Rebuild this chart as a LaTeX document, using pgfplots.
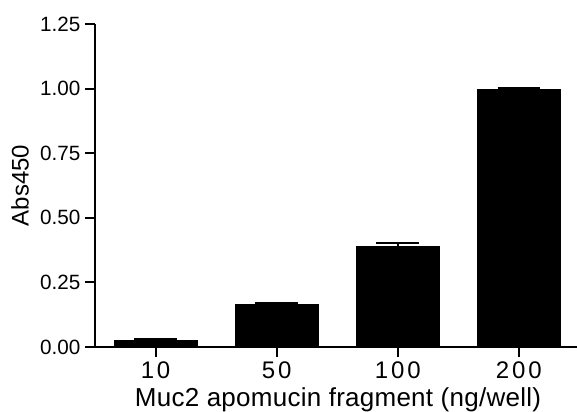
\documentclass[border=0pt]{standalone}
\usepackage{pgfplots}
\pgfplotsset{compat=1.18}
\usepackage{fontspec}
\setmainfont{Liberation Sans}

\begin{document}
\begin{tikzpicture}
\begin{axis}[
    at={(0,0)}, anchor=south west,
    scale only axis,
    width=361.5pt, height=242.25pt,
    xmin=-0.5, xmax=3.48,
    ymin=0, ymax=1.25,
    axis lines*=left,
    axis line style={line width=1.5pt},
    every tick/.style={black, line width=1.5pt},
    major tick length=7.5pt,
    tick align=outside,
    xtick={0,1,2,3},
    xticklabels={10,50,100,200},
    ytick={0,0.25,0.5,0.75,1,1.25},
    /pgf/number format/assume math mode=true,
    yticklabel style={/pgf/number format/fixed, /pgf/number format/fixed zerofill,
        /pgf/number format/precision=2, font=\fontsize{15.5}{15.5}\selectfont},
    xticklabel style={font=\fontsize{18}{18}\selectfont\addfontfeature{LetterSpace=12}},
    ylabel={Abs450},
    xlabel={Muc2 apomucin fragment (ng/well)},
    ylabel style={font=\fontsize{18}{18}\selectfont, yshift=1.5pt},
    xlabel style={font=\fontsize{19.5}{19.5}\selectfont\addfontfeature{LetterSpace=1},
        xshift=1.5pt},
    ybar, bar width=62pt,
]
\addplot[fill=black, draw=black,
    error bars/.cd, y dir=plus, y explicit,
    error bar style={line width=1.5pt, black},
    error mark options={rotate=90, mark size=16pt, line width=1.5pt, black}]
coordinates {
    (0,0.025) +- (0,0.006)
    (1,0.165) +- (0,0.007)
    (2,0.388) +- (0,0.015)
    (3,0.996) +- (0,0.006)
};
\end{axis}
\pgfresetboundingbox
\path[use as bounding box] (-71.25pt,-48pt) rectangle (361.5pt,260.25pt);
\end{tikzpicture}
\end{document}
